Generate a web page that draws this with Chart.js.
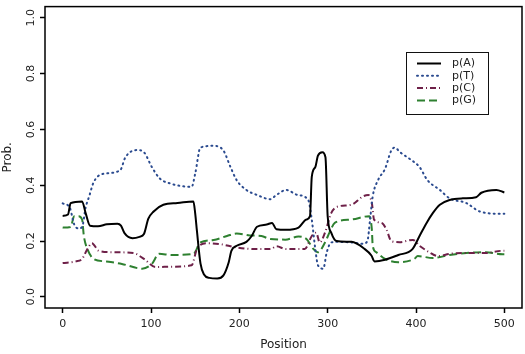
<!DOCTYPE html>
<html>
<head>
<meta charset="utf-8">
<script src="https://cdn.jsdelivr.net/npm/chart.js@4/dist/chart.umd.min.js"></script>
<style>
  html, body { margin: 0; padding: 0; background: #fff; }
  canvas { display: block; }
</style>
</head>
<body>
<canvas id="grafico" width="525" height="354"></canvas>
<script>
const xTicks = [0, 100, 200, 300, 400, 500];
const yTicks = [0, 0.2, 0.4, 0.6, 0.8, 1.0];
const seriesLabels = ["p(A)", "p(T)", "p(C)", "p(G)"];

const posA = [0, 6, 9, 22, 26, 31, 40, 50, 62, 66, 70, 79, 87, 92, 97, 103, 114, 130, 148, 150, 152, 156, 160, 166, 175, 182, 188, 191, 197, 208, 214, 220, 231, 237, 242, 253, 267, 276, 280, 282, 286, 289, 294, 297.5, 300, 304, 310, 327, 342, 349.5, 353, 365, 380, 396, 404, 412, 419, 427, 438, 453, 468, 474, 491, 500];
const probA = [0.29, 0.295, 0.336, 0.342, 0.30, 0.255, 0.253, 0.26, 0.262, 0.255, 0.228, 0.21, 0.215, 0.225, 0.28, 0.306, 0.33, 0.336, 0.342, 0.30, 0.236, 0.12, 0.08, 0.068, 0.066, 0.077, 0.124, 0.165, 0.183, 0.197, 0.218, 0.251, 0.259, 0.265, 0.242, 0.24, 0.248, 0.277, 0.289, 0.43, 0.465, 0.506, 0.518, 0.50, 0.289, 0.23, 0.20, 0.197, 0.171, 0.148, 0.127, 0.133, 0.15, 0.171, 0.218, 0.265, 0.30, 0.33, 0.347, 0.353, 0.357, 0.373, 0.383, 0.374];

const posT = [0, 8, 13, 18, 22, 26, 30, 35, 45, 65, 71, 84, 92, 101, 110, 122, 146, 150, 156, 171, 182, 190, 197, 208, 220, 235, 242, 253, 266, 278, 282, 286, 289, 295, 299, 304, 312, 327, 340, 345, 348, 351, 357, 365, 372, 376, 382, 393, 404, 413, 427, 438, 457, 472, 494, 500];
const probT = [0.335, 0.32, 0.26, 0.245, 0.25, 0.32, 0.36, 0.41, 0.44, 0.453, 0.50, 0.526, 0.518, 0.465, 0.424, 0.406, 0.394, 0.441, 0.535, 0.541, 0.524, 0.465, 0.418, 0.383, 0.365, 0.35, 0.365, 0.383, 0.365, 0.347, 0.277, 0.171, 0.113, 0.101, 0.16, 0.195, 0.197, 0.195, 0.19, 0.20, 0.277, 0.36, 0.418, 0.459, 0.524, 0.535, 0.518, 0.494, 0.465, 0.418, 0.383, 0.353, 0.336, 0.306, 0.298, 0.298];

const posC = [0, 15, 22, 28, 33, 41, 56, 80, 92, 105, 124, 146, 152, 163, 178, 197, 220, 235, 242, 253, 274, 282, 287, 291, 297, 304, 312, 327, 340, 346, 350, 352.5, 361, 366.5, 372, 381.5, 396.5, 404, 415, 425, 438, 457, 479, 498, 500];
const probC = [0.121, 0.127, 0.136, 0.171, 0.192, 0.165, 0.16, 0.157, 0.136, 0.107, 0.108, 0.113, 0.171, 0.192, 0.189, 0.177, 0.171, 0.171, 0.181, 0.171, 0.171, 0.218, 0.23, 0.195, 0.23, 0.30, 0.324, 0.33, 0.36, 0.365, 0.336, 0.277, 0.265, 0.242, 0.20, 0.196, 0.204, 0.183, 0.16, 0.146, 0.154, 0.157, 0.157, 0.165, 0.165];

const posG = [0, 9, 13, 18, 22, 24, 28, 35, 48, 67, 90, 101, 109, 124, 148, 156, 171, 186, 197, 212, 225, 235, 252, 267, 276, 284, 289, 297, 302, 308, 327, 347, 350, 351, 355, 365, 380, 398, 402, 419, 438, 457, 479, 498, 500];
const probG = [0.248, 0.25, 0.289, 0.289, 0.277, 0.218, 0.171, 0.136, 0.127, 0.118, 0.101, 0.118, 0.154, 0.15, 0.154, 0.195, 0.204, 0.218, 0.227, 0.22, 0.218, 0.207, 0.205, 0.216, 0.207, 0.171, 0.16, 0.195, 0.23, 0.265, 0.277, 0.289, 0.242, 0.183, 0.16, 0.136, 0.124, 0.136, 0.146, 0.139, 0.15, 0.157, 0.16, 0.153, 0.153];

const toPoints = (xs, ys) => xs.map((x, i) => ({ x: x, y: ys[i] }));

Chart.defaults.font.family = "'DejaVu Sans', sans-serif";
Chart.defaults.font.size = 11;
Chart.defaults.color = "#222";

const framePlugin = {
  id: "frame",
  afterDraw(chart) {
    const { ctx, chartArea: a } = chart;
    ctx.save();
    ctx.strokeStyle = "#000";
    ctx.lineWidth = 1.5;
    ctx.strokeRect(a.left, a.top, a.right - a.left, a.bottom - a.top);
    ctx.restore();
  },
};

// legend box drawn inside the plot, like the R one
const boxLegend = {
  id: "boxLegend",
  afterDraw(chart) {
    const ctx = chart.ctx;
    const bx = 406, by = 52, bw = 82, bh = 62;
    ctx.save();
    ctx.fillStyle = "#fff";
    ctx.fillRect(bx, by, bw, bh);
    ctx.strokeStyle = "#111";
    ctx.lineWidth = 1;
    ctx.strokeRect(bx + 0.5, by + 0.5, bw, bh);
    ctx.font = "11px 'DejaVu Sans', sans-serif";
    ctx.textBaseline = "middle";
    chart.data.datasets.forEach((ds, i) => {
      const y = 63.5 + i * 12.3;
      ctx.beginPath();
      ctx.setLineDash(ds.borderDash || []);
      ctx.lineCap = ds.borderCapStyle || "butt";
      ctx.strokeStyle = ds.borderColor;
      ctx.lineWidth = ds.borderWidth;
      ctx.moveTo(417, y);
      ctx.lineTo(441, y);
      ctx.stroke();
      ctx.setLineDash([]);
      ctx.fillStyle = "#222";
      ctx.fillText(ds.label, 452, y);
    });
    ctx.restore();
  },
};

const axisGrid = {
  drawOnChartArea: false,
  drawTicks: true,
  tickLength: 5,
  tickColor: "#000",
  tickWidth: 1.5,
};

new Chart(document.getElementById("grafico").getContext("2d"), {
  type: "line",
  data: {
    datasets: [
      {
        label: seriesLabels[0],
        data: toPoints(posA, probA),
        borderColor: "#000000",
        borderWidth: 2,
      },
      {
        label: seriesLabels[1],
        data: toPoints(posT, probT),
        borderColor: "#2a4a8f",
        borderWidth: 2,
        borderDash: [1, 4],
        borderCapStyle: "round",
      },
      {
        label: seriesLabels[2],
        data: toPoints(posC, probC),
        borderColor: "#6e2048",
        borderWidth: 2,
        borderDash: [6, 3, 1, 3],
      },
      {
        label: seriesLabels[3],
        data: toPoints(posG, probG),
        borderColor: "#2e8030",
        borderWidth: 2,
        borderDash: [8, 4],
      },
    ],
  },
  options: {
    responsive: false,
    animation: false,
    layout: { padding: { top: 2, right: 3, left: 0, bottom: 0 } },
    elements: {
      point: { radius: 0 },
      line: { cubicInterpolationMode: "monotone" },
    },
    plugins: {
      legend: { display: false },
      tooltip: { enabled: false },
    },
    scales: {
      x: {
        type: "linear",
        min: -20,
        max: 520,
        afterBuildTicks: (scale) => {
          scale.ticks = xTicks.map((v) => ({ value: v }));
        },
        afterFit: (scale) => {
          scale.height = 46;
        },
        grid: axisGrid,
        border: { display: false },
        ticks: { padding: 5, color: "#222", maxRotation: 0 },
        title: {
          display: true,
          text: "Position",
          font: { size: 12 },
          color: "#222",
          padding: { top: 0, bottom: 2 },
        },
      },
      y: {
        type: "linear",
        min: -0.04,
        max: 1.04,
        afterBuildTicks: (scale) => {
          scale.ticks = yTicks.map((v) => ({ value: v }));
        },
        afterFit: (scale) => {
          scale.width = 45;
        },
        grid: axisGrid,
        border: { display: false },
        ticks: {
          padding: 0,
          color: "#222",
          minRotation: 90,
          maxRotation: 90,
          crossAlign: "center",
          callback: (v) => Number(v).toFixed(1),
        },
        title: {
          display: true,
          text: "Prob.",
          font: { size: 12 },
          color: "#222",
          padding: { top: 1, bottom: 0 },
        },
      },
    },
  },
  plugins: [framePlugin, boxLegend],
});
</script>
</body>
</html>
